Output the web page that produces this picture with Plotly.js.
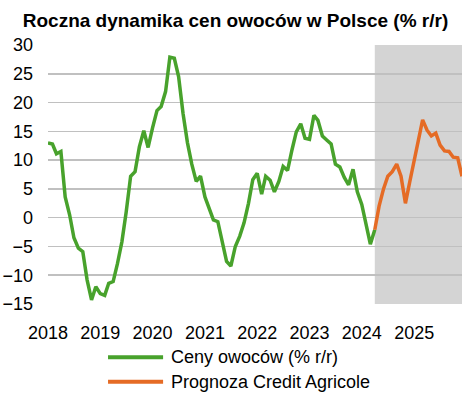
<!DOCTYPE html>
<html>
<head>
<meta charset="utf-8">
<script src="https://cdn.plot.ly/plotly-3.0.1.min.js"></script>
<style>
  html, body { margin: 0; padding: 0; background: #ffffff; }
  #chart { width: 471px; height: 394px; }
</style>
</head>
<body>
<div id="chart"></div>
<script>
// ---- data ----
const years = [2018, 2019, 2020, 2021, 2022, 2023, 2024, 2025];
const yearLabels = ['2018', '2019', '2020', '2021', '2022', '2023', '2024', '2025'];

// Monthly year-on-year change of fruit prices (%), Jan 2018 - Apr 2024
const fruitPrices = [
  13.0, 12.8, 11.1, 11.5, 3.6, 0.5, -3.5, -5.3, -5.9, -10.8, -14.3, -12.0,
  -13.2, -13.5, -11.4, -11.1, -8.0, -4.2, 1.0, 7.2, 8.0, 12.3, 15.1, 12.2,
  15.6, 18.6, 19.3, 21.9, 27.9, 27.7, 24.5, 18.1, 13.0, 9.3, 6.3, 7.2,
  3.6, 1.5, -0.4, -0.7, -4.1, -7.6, -8.4, -5.0, -3.2, -0.9, 2.5, 6.6,
  7.7, 4.1, 7.2, 6.5, 4.5, 6.3, 8.9, 8.2, 11.8, 14.9, 16.3, 13.8,
  13.6, 17.8, 16.9, 14.2, 13.5, 12.8, 9.3, 8.8, 7.0, 5.7, 8.4, 4.5,
  2.3, -1.0, -4.6, -2.1
];

// Credit Agricole forecast (%), Apr 2024 - Dec 2025
const forecast = [
  -2.1, 2.0, 5.0, 7.2, 8.0, 9.3, 7.2, 2.5, 6.2,
  10.0, 13.5, 17.0, 15.2, 14.2, 14.7, 12.6, 11.6, 11.5, 10.5, 10.4, 7.2
];

const seriesNames = ['Ceny owoców (% r/r)', 'Prognoza Credit Agricole'];
const seriesColors = ['#48a22c', '#e56b25'];
const titleText = 'Roczna dynamika cen owoców w Polsce (% r/r)';

// ---- derived month axis ----
const dates = [];
years.forEach(function (y) {
  for (let m = 1; m <= 12; m++) {
    dates.push(y + '-' + (m < 10 ? '0' + m : m) + '-01');
  }
});
const fruitDates = dates.slice(0, fruitPrices.length);
const forecastStartIndex = fruitPrices.length - 1;
const forecastDates = dates.slice(forecastStartIndex, forecastStartIndex + forecast.length);
const tickDates = years.map(function (y) { return y + '-01-01'; });

const FONT = 'Liberation Sans, Arial, sans-serif';

const traces = [
  {
    x: fruitDates, y: fruitPrices, type: 'scatter', mode: 'lines',
    name: seriesNames[0],
    line: { color: seriesColors[0], width: 3.5 }
  },
  {
    x: forecastDates, y: forecast, type: 'scatter', mode: 'lines',
    name: seriesNames[1],
    line: { color: seriesColors[1], width: 3.5 }
  }
];

// legend drawn in paper coordinates (long line samples like the original)
const legendRowsY = [-0.206, -0.300];
const legendShapes = seriesNames.map(function (n, i) {
  return {
    type: 'line', xref: 'paper', yref: 'paper',
    x0: 0.145, x1: 0.278, y0: legendRowsY[i], y1: legendRowsY[i],
    line: { color: seriesColors[i], width: 4 }
  };
});
const legendTexts = seriesNames.map(function (n, i) {
  return {
    text: n, xref: 'paper', yref: 'paper',
    x: 0.292, y: legendRowsY[i], xanchor: 'left', yanchor: 'middle',
    showarrow: false,
    font: { family: FONT, size: 18, color: '#000000' }
  };
});

const layout = {
  width: 471, height: 394,
  margin: { l: 48, r: 9, t: 45, b: 90, autoexpand: false },
  paper_bgcolor: '#ffffff', plot_bgcolor: '#ffffff',
  font: { family: FONT, size: 18, color: '#000000' },
  title: {
    text: '<b>' + titleText + '</b>',
    font: { family: FONT, size: 19, color: '#000000' },
    x: 0.5, xref: 'container', xanchor: 'center',
    y: 0.948, yref: 'container', yanchor: 'middle'
  },
  xaxis: {
    type: 'date',
    range: [dates[0], dates[dates.length - 1]],
    tickmode: 'array', tickvals: tickDates, ticktext: yearLabels,
    showgrid: false, zeroline: false, showline: false, ticks: '',
    tickfont: { family: FONT, size: 18, color: '#000000' },
    ticklabelstandoff: 16,
    fixedrange: true
  },
  yaxis: {
    range: [-15, 30], dtick: 5, tick0: 0,
    showgrid: true, gridcolor: '#c0c0c0', gridwidth: 1.5,
    zeroline: false, showline: false, ticks: '',
    tickfont: { family: FONT, size: 18, color: '#000000' },
    ticklabelstandoff: 14,
    fixedrange: true
  },
  shapes: [
    {
      type: 'rect', xref: 'x', yref: 'paper',
      x0: dates[forecastStartIndex], x1: dates[dates.length - 1], y0: 0, y1: 1,
      fillcolor: '#d4d4d4', line: { width: 0 }, layer: 'below'
    }
  ].concat(legendShapes),
  annotations: legendTexts,
  showlegend: false
};

Plotly.newPlot('chart', traces, layout, { displayModeBar: false, staticPlot: true });
</script>
</body>
</html>
